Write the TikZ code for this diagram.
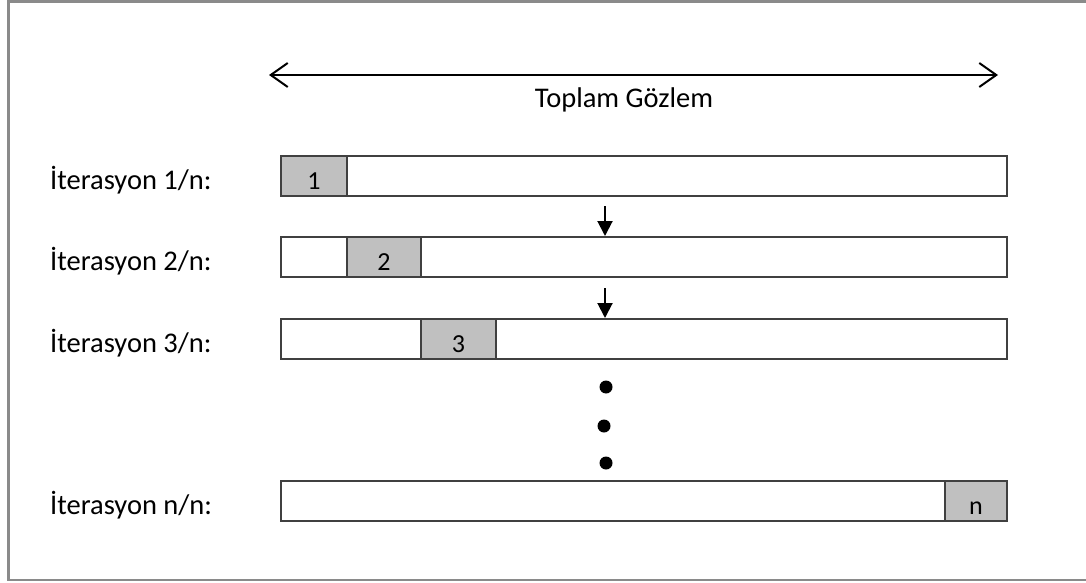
\documentclass[tikz,border=0pt]{standalone}
\usepackage{fontspec}
\setmainfont{Carlito}
\usetikzlibrary{arrows.meta}
\definecolor{framegray}{HTML}{8A8A8A}
\definecolor{edgegray}{HTML}{404040}
\definecolor{boxgray}{HTML}{C0C0C0}
\tikzset{
  bar/.style={draw=edgegray, line width=2pt, fill=white, inner sep=0pt, minimum height=40pt, minimum width=726pt},
  chunk/.style={draw=edgegray, line width=2pt, fill=boxgray, inner sep=0pt, minimum height=40pt, text height=33pt, text depth=7pt, font=\fontsize{26}{30}\selectfont},
  rowlabel/.style={anchor=base west, inner sep=0pt, font=\fontsize{28.5}{34}\selectfont},
  steparrow/.style={line width=2pt, -{Triangle[length=15pt,width=15pt]}},
  spanarrow/.style={line width=2pt, {Straight Barb[length=17pt,width=24pt]}-{Straight Barb[length=17pt,width=24pt]}},
  dotmark/.style={fill=black, draw=none}
}
\begin{document}
\begin{tikzpicture}[x=1pt,y=-1pt]
\useasboundingbox (0,0) rectangle (1086,583);
% outer frame
\draw[framegray, line width=2.5pt] (1100,1.5) -- (8.5,1.5) -- (8.5,580) -- (1100,580);
% total span arrow
\coordinate (L) at (269,75);
\coordinate (R) at (998,75);
\draw[spanarrow] (L) -- (R);
\node[anchor=base, inner sep=0pt, font=\fontsize{28.5}{34}\selectfont] (tg) at (624,107) {Toplam Gözlem};
% rows
\node[bar] (b1) at (644,176) {};
\node[chunk, minimum width=66pt] (g1) at (314,176) {1};
\node[rowlabel] (l1) at (50,189) {İterasyon 1/n:};

\node[bar] (b2) at (644,257) {};
\node[chunk, minimum width=74pt] (g2) at (384,257) {2};
\node[rowlabel] (l2) at (50,270) {İterasyon 2/n:};

\node[bar] (b3) at (644,339) {};
\node[chunk, minimum width=75pt] (g3) at (458.5,339) {3};
\node[rowlabel] (l3) at (50,352) {İterasyon 3/n:};

\node[bar] (bn) at (644,501) {};
\node[chunk, minimum width=62pt] (gn) at (976,501) {n};
\node[rowlabel] (ln) at (50,514) {İterasyon n/n:};
% step arrows
\coordinate (a1) at (605,206);
\coordinate (a2) at (605,288);
\draw[steparrow] (a1) -- (b2.north -| a1);
\draw[steparrow] (a2) -- (b3.north -| a2);
% ellipsis dots
\fill[dotmark] (606,387) circle (6.5pt);
\fill[dotmark] (604,426) circle (6.5pt);
\fill[dotmark] (606,463) circle (6.5pt);
\end{tikzpicture}
\end{document}
